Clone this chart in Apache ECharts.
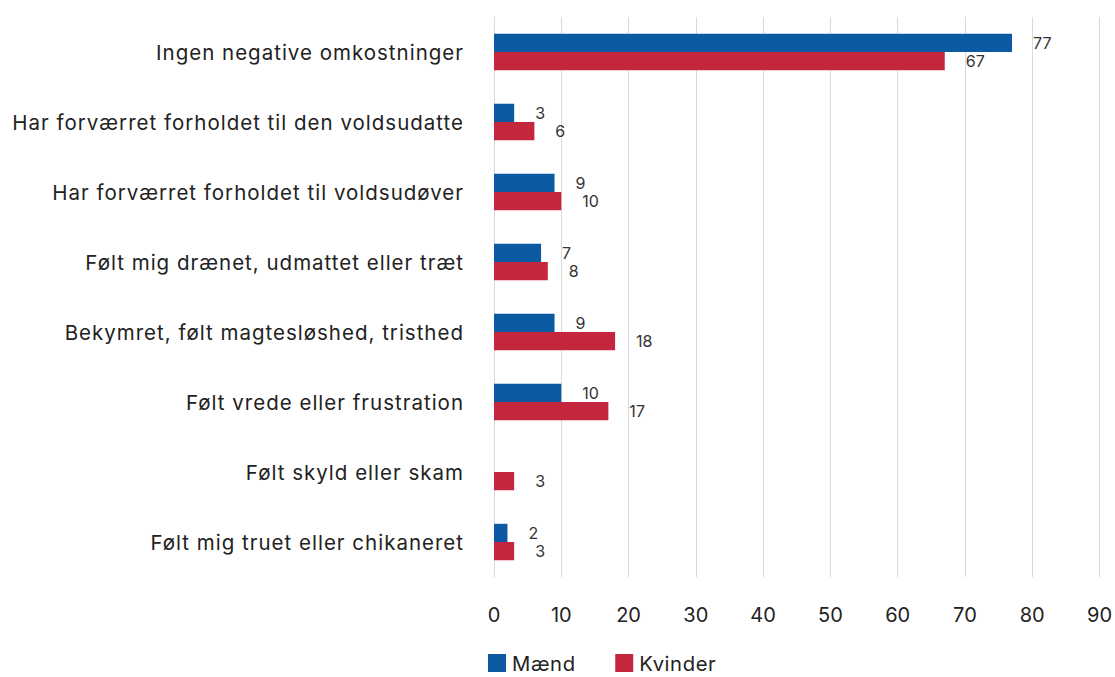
<!DOCTYPE html>
<html>
<head>
<meta charset="utf-8">
<script src="https://cdn.jsdelivr.net/npm/echarts@6/dist/echarts.min.js"></script>
<style>
html,body{margin:0;padding:0;background:#fff;}
#chart{width:1115px;height:677px;}
#chart text[style*="20.5px"]{letter-spacing:1px;}
#chart text[style*="20.25px"]{letter-spacing:0.6px;}
</style>
</head>
<body>
<div id="chart"></div>
<script>
const categories = [
  "Ingen negative omkostninger",
  "Har forværret forholdet til den voldsudatte",
  "Har forværret forholdet til voldsudøver",
  "Følt mig drænet, udmattet eller træt",
  "Bekymret, følt magtesløshed, tristhed",
  "Følt vrede eller frustration",
  "Følt skyld eller skam",
  "Følt mig truet eller chikaneret"
];
const seriesNames = ["Mænd", "Kvinder"];
const maend = [77, 3, 9, 7, 9, 10, null, 2];
const kvinder = [67, 6, 10, 8, 18, 17, 3, 3];
const xTicks = {min: 0, max: 90, interval: 10};

const FONT = 'Inter';
const chart = echarts.init(document.getElementById('chart'), null, {renderer: 'svg'});
const labelStyle = {show: true, position: 'right', distance: 21, fontFamily: FONT, fontSize: 16, color: '#333'};
chart.setOption({
  animation: false,
  textStyle: {fontFamily: FONT},
  grid: {left: 494, right: 14, top: 17, bottom: 100, containLabel: false},
  legend: {
    top: 653, left: 488, padding: 0,
    itemWidth: 18, itemHeight: 18, itemGap: 42,
    icon: 'rect',
    textStyle: {fontFamily: FONT, fontSize: 20.25, lineHeight: 20, color: '#222', padding: [0, 0, 0, 1]},
    data: seriesNames
  },
  xAxis: {
    type: 'value', min: xTicks.min, max: xTicks.max, interval: xTicks.interval,
    axisLine: {show: false}, axisTick: {show: false},
    splitLine: {show: true, lineStyle: {color: '#d9d9d9', width: 1}},
    axisLabel: {fontFamily: FONT, fontSize: 20, color: '#222', margin: 28}
  },
  yAxis: {
    type: 'category', inverse: true, data: categories,
    axisLine: {show: true, lineStyle: {color: '#d9d9d9'}}, axisTick: {show: false},
    axisLabel: {fontFamily: FONT, fontSize: 20.5, color: '#222', margin: 30}
  },
  series: [
    {name: seriesNames[0], type: 'bar', data: maend, barGap: '0%', barCategoryGap: '48%',
     itemStyle: {color: '#0b5aa2'}, label: labelStyle},
    {name: seriesNames[1], type: 'bar', data: kvinder, barGap: '0%', barCategoryGap: '48%',
     itemStyle: {color: '#c4263e'}, label: labelStyle}
  ]
});
</script>
</body>
</html>
